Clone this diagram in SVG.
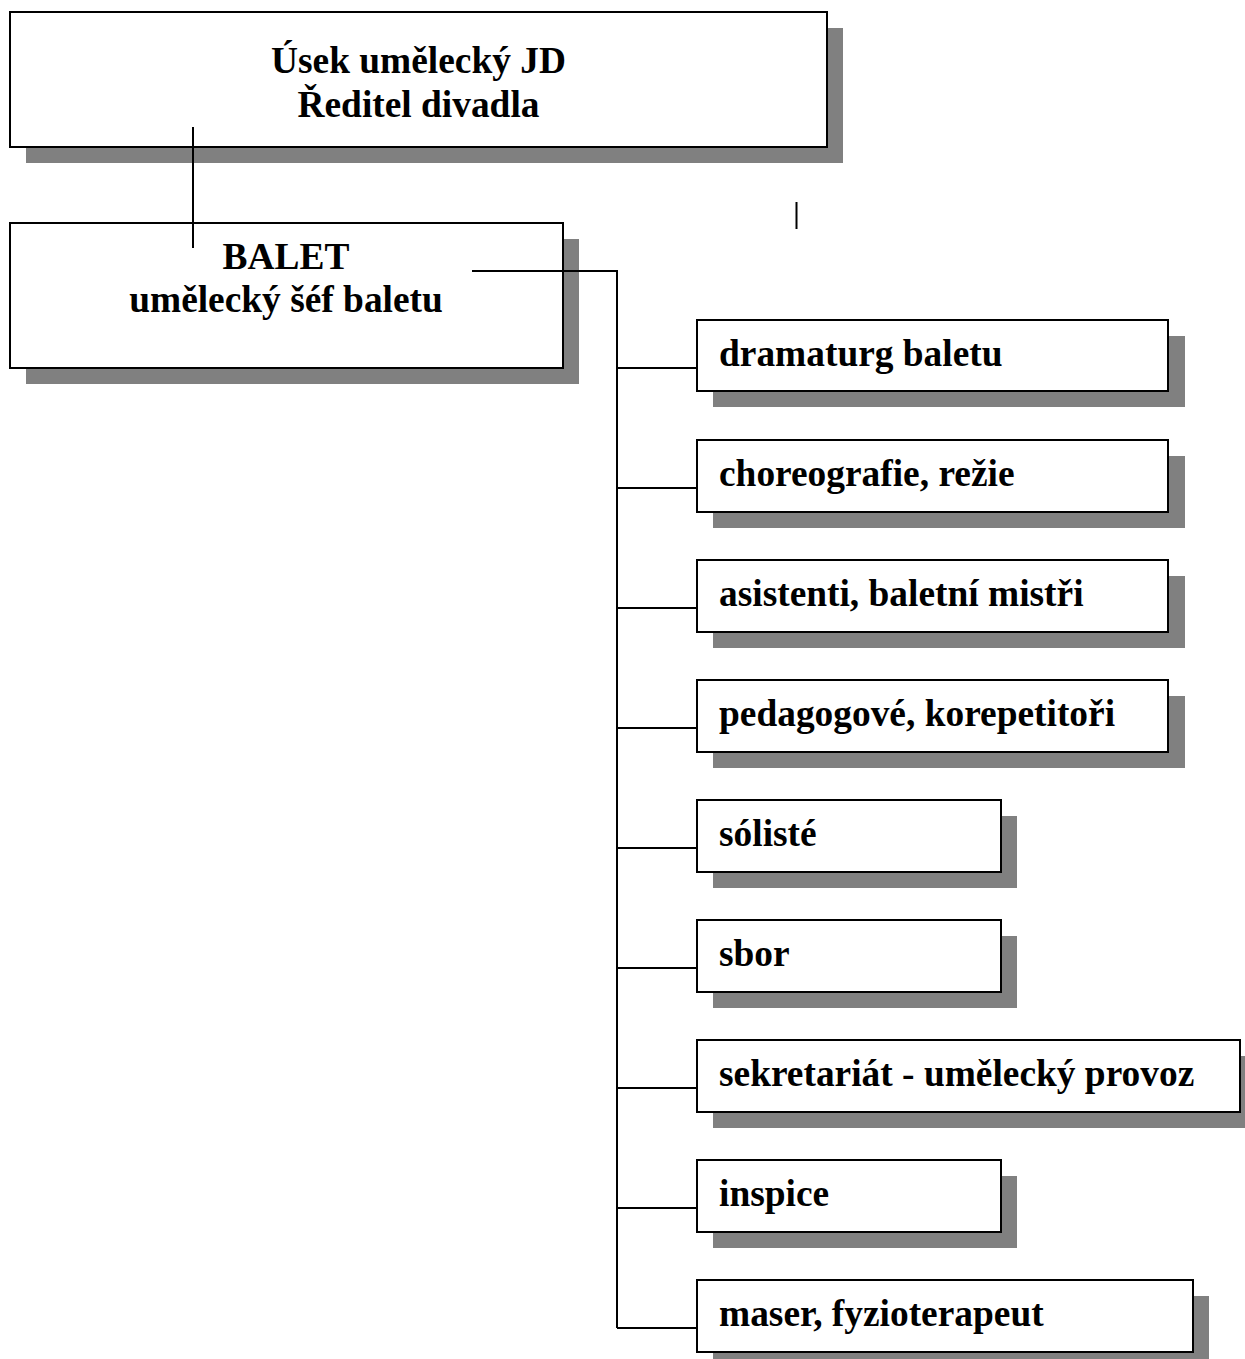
<svg xmlns="http://www.w3.org/2000/svg" width="1245" height="1359" viewBox="0 0 1245 1359">
<style>
.sh{fill:#808080;stroke:none}
.bx{fill:#fff;stroke:#000;stroke-width:2}
.t{font-family:"Liberation Serif","Times New Roman",serif;font-weight:bold;font-size:37.4px;fill:#000}
.c{text-anchor:middle}
.ln{fill:none;stroke:#000;stroke-width:2}
</style>
<rect width="1245" height="1359" fill="#fff"/>
<g id="n-usek">
<rect class="sh" x="26" y="28" width="817" height="135"/>
<rect class="bx" x="10" y="12" width="817" height="135"/>
<text class="t c" x="418.5" y="73">Úsek umělecký JD</text>
<text class="t c" x="418.5" y="117">Ředitel divadla</text>
</g>
<g id="n-balet">
<rect class="sh" x="26" y="239" width="553" height="145"/>
<rect class="bx" x="10" y="223" width="553" height="145"/>
<text class="t c" x="286" y="269">BALET</text>
<text class="t c" x="286" y="312">umělecký šéf baletu</text>
</g>
<g id="n-dramaturg">
<rect class="sh" x="713" y="336" width="472" height="71"/>
<rect class="bx" x="697" y="320" width="471" height="71"/>
<text class="t" x="719" y="366">dramaturg baletu</text>
</g>
<g id="n-choreografie">
<rect class="sh" x="713" y="456" width="472" height="72"/>
<rect class="bx" x="697" y="440" width="471" height="72"/>
<text class="t" x="719" y="486">choreografie, režie</text>
</g>
<g id="n-asistenti">
<rect class="sh" x="713" y="576" width="472" height="72"/>
<rect class="bx" x="697" y="560" width="471" height="72"/>
<text class="t" x="719" y="606">asistenti, baletní mistři</text>
</g>
<g id="n-pedagogove">
<rect class="sh" x="713" y="696" width="472" height="72"/>
<rect class="bx" x="697" y="680" width="471" height="72"/>
<text class="t" x="719" y="726">pedagogové, korepetitoři</text>
</g>
<g id="n-soliste">
<rect class="sh" x="713" y="816" width="304" height="72"/>
<rect class="bx" x="697" y="800" width="304" height="72"/>
<text class="t" x="719" y="846">sólisté</text>
</g>
<g id="n-sbor">
<rect class="sh" x="713" y="936" width="304" height="72"/>
<rect class="bx" x="697" y="920" width="304" height="72"/>
<text class="t" x="719" y="966">sbor</text>
</g>
<g id="n-sekretariat">
<rect class="sh" x="713" y="1056" width="543" height="72"/>
<rect class="bx" x="697" y="1040" width="543" height="72"/>
<text class="t" x="719" y="1086">sekretariát - umělecký provoz</text>
</g>
<g id="n-inspice">
<rect class="sh" x="713" y="1176" width="304" height="72"/>
<rect class="bx" x="697" y="1160" width="304" height="72"/>
<text class="t" x="719" y="1206">inspice</text>
</g>
<g id="n-maser">
<rect class="sh" x="713" y="1296" width="496" height="72"/>
<rect class="bx" x="697" y="1280" width="496" height="72"/>
<text class="t" x="719" y="1326">maser, fyzioterapeut</text>
</g>
<g id="connectors">
<path class="ln" d="M193,127V248"/>
<path class="ln" d="M796.5,202V229"/>
<path class="ln" d="M472,271H617V1328"/>
<path class="ln" d="M617,368H697M617,488H697M617,608H697M617,728H697M617,848H697M617,968H697M617,1088H697M617,1208H697M617,1328H697"/>
</g>
</svg>
